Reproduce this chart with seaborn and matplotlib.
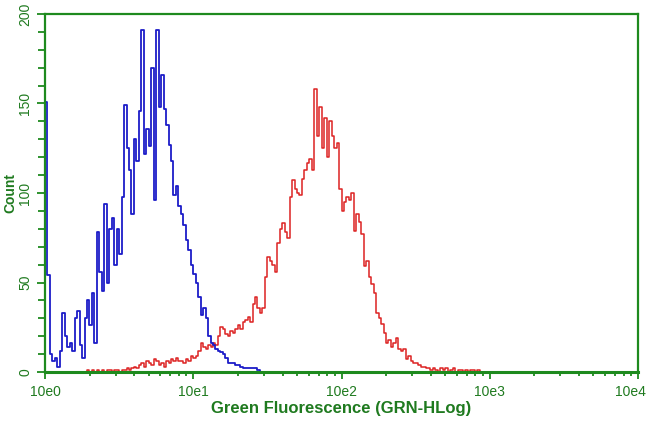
import numpy as np
import pandas as pd
import matplotlib
matplotlib.use("Agg")
import matplotlib.pyplot as plt
import matplotlib.transforms as mtransforms
import seaborn as sns
from matplotlib.ticker import FixedLocator, NullFormatter

# Histogram channels: bins of 1/60 decade (log10 of fluorescence)
bins_per_decade = 60

# Blue (control) histogram, starting at bin 0
blue_start = 0
blue_counts = [151, 54, 10, 6, 8, 3, 12, 33, 20, 14,
               16, 12, 30, 34, 15, 8, 30, 40, 26, 44,
               16, 78, 56, 45, 94, 50, 80, 86, 60, 80,
               66, 98, 149, 125, 113, 88, 130, 118, 146, 191,
               122, 136, 126, 170, 96, 191, 148, 166, 147, 138,
               127, 118, 99, 104, 93, 88, 82, 74, 68, 60,
               55, 50, 42, 32, 36, 30, 20, 16, 15, 13,
               12, 11, 10, 8, 5, 5, 5, 4, 4, 3,
               2, 2, 2, 2, 2, 2, 1, 0]

# Red (stained) histogram, starting at bin 17
red_start = 17
red_counts = [1, 0, 1, 0, 1, 0, 1, 0, 1, 1,
              0, 1, 1, 0, 1, 1, 2, 1, 2, 3,
              2, 4, 5, 3, 6, 5, 4, 7, 6, 4,
              5, 3, 6, 5, 7, 6, 8, 6, 6, 5,
              7, 6, 9, 8, 9, 12, 16, 14, 13, 15,
              14, 16, 15, 20, 25, 24, 21, 20, 23, 22,
              24, 26, 24, 28, 29, 31, 28, 38, 42, 36,
              33, 36, 53, 64, 62, 60, 56, 72, 80, 83,
              78, 75, 98, 107, 102, 100, 99, 108, 113, 117,
              119, 113, 158, 132, 148, 125, 142, 120, 140, 132,
              125, 128, 102, 90, 95, 98, 96, 100, 79, 88,
              84, 77, 59, 62, 53, 49, 44, 33, 30, 27,
              22, 16, 18, 14, 16, 19, 13, 12, 13, 7,
              9, 6, 5, 5, 4, 3, 3, 2, 2, 1,
              2, 1, 0, 2, 1, 2, 0, 1, 2, 0,
              1, 1, 0, 1, 0, 1, 1, 0, 1, 0]

x_ticks = [1, 10, 100, 1000, 10000]
x_ticklabels = ["10e0", "10e1", "10e2", "10e3", "10e4"]
y_ticks = [0, 50, 100, 150, 200]
x_label = "Green Fluorescence (GRN-HLog)"
y_label = "Count"


def step_frame(start, counts, name):
    idx = np.arange(start, start + len(counts) + 1)
    x = 10 ** (idx / bins_per_decade)
    y = list(counts) + [0]
    x = np.concatenate([[x[0]], x])
    y = [0] + y
    return pd.DataFrame({"fl": x, "count": y, "series": name})


df_blue = step_frame(blue_start, blue_counts, "blue")
df_red = step_frame(red_start, red_counts, "red")

sns.set_theme(style="white")
font_list = ["Liberation Sans Narrow", "Liberation Sans", "DejaVu Sans"]
plt.rcParams["font.family"] = font_list

green = "#1e8a1e"
text_green = "#1f7a1f"

fig = plt.figure(figsize=(6.5, 4.26), dpi=100)
ax = fig.add_axes([45 / 650, 1 - 372 / 426, (638 - 45) / 650, (372 - 14) / 426])

sns.lineplot(data=df_red, x="fl", y="count", ax=ax, color="#dd2222",
             drawstyle="steps-post", linewidth=1.1, sort=False, estimator=None)
sns.lineplot(data=df_blue, x="fl", y="count", ax=ax, color="#1c1cc8",
             drawstyle="steps-post", linewidth=1.3, sort=False, estimator=None)

ax.set_xscale("log")
ax.set_xlim(1, 10000)
ax.set_ylim(0, 200)

for s in ax.spines.values():
    s.set_color(green)
    s.set_linewidth(1.6)
ax.spines["bottom"].set_linewidth(2.2)

ax.xaxis.set_major_locator(FixedLocator(x_ticks))
ax.set_xticklabels(x_ticklabels)
minor_x = [m * 10 ** d for d in range(4) for m in range(2, 10)]
ax.xaxis.set_minor_locator(FixedLocator(minor_x))
ax.xaxis.set_minor_formatter(NullFormatter())
ax.set_yticks(y_ticks)
ax.yaxis.set_minor_locator(FixedLocator(list(range(0, 201, 10))))

ax.tick_params(axis="both", which="both", colors=green, labelcolor=text_green,
               direction="out", width=1.3)
ax.tick_params(axis="x", which="major", length=5, labelsize=10, pad=4)
ax.tick_params(axis="x", which="minor", length=3)
ax.tick_params(axis="y", which="major", length=6, labelsize=10, pad=3)
ax.tick_params(axis="y", which="minor", length=5)
ax.tick_params(left=True, bottom=True, which="both")
for lab in ax.get_yticklabels():
    lab.set_rotation(90)
    lab.set_va("center")

# keep the last x tick label inside the figure
last = ax.get_xticklabels()[-1]
last.set_transform(last.get_transform() +
                   mtransforms.ScaledTranslation(-8 / 100, 0, fig.dpi_scale_trans))

ax.set_xlabel(x_label, color=text_green, fontsize=12, fontweight="bold", labelpad=2)
ax.set_ylabel(y_label, color=text_green, fontsize=10, fontweight="bold", labelpad=1)

fig.savefig("out.png", dpi=100)
